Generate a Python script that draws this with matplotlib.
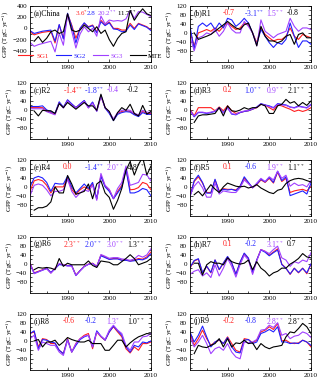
import numpy as np
import matplotlib
matplotlib.use("Agg")
from matplotlib import pyplot as plt
from matplotlib.ticker import MultipleLocator

plt.rcParams['font.family'] = ['Liberation Serif', 'DejaVu Serif']
plt.rcParams['mathtext.fontset'] = 'stix'

years = np.arange(1981, 2011)
nan = np.nan

titles = ['(a)China', '(b)R1', '(c)R2', '(d)R3', '(e)R4',
          '(f)R5', '(g)R6', '(h)R7', '(i)R8', '(j)R9']
labels = ['SG1', 'SG2', 'SG3', 'MTE']
colors = ['#ff2020', '#2020ff', '#a040ff', 'black']

trends = [
    ['3.6$^{*}$', '2.8', '20.2$^{**}$', '11.7$^{**}$'],
    ['-0.7', '-3.1$^{**}$', '1.5$^{**}$', '-0.8'],
    ['-1.4$^{**}$', '-1.8$^{**}$', '-0.4', '-0.2'],
    ['0.2', '1.0$^{**}$', '0.9$^{**}$', '2.1$^{**}$'],
    ['0.0', '-1.4$^{**}$', '2.0$^{**}$', '4.8$^{**}$'],
    ['0.1', '-0.6', '1.9$^{**}$', '1.1$^{**}$'],
    ['2.3$^{**}$', '2.0$^{**}$', '3.0$^{**}$', '1.3$^{**}$'],
    ['0.1', '-0.2', '3.1$^{**}$', '0.7'],
    ['-0.6', '-0.2', '1.3$^{*}$', '1.0$^{**}$'],
    ['-0.2', '-0.8', '2.8$^{**}$', '2.8$^{**}$'],
]

# GPP anomalies (TgC/yr), 1981-2010
china_sg1 = [-60, -115, -90, -70, -60, -50, -260, 60, -175, 260, 60, -175, 0, 90, 30,
             60, -60, 145, 60, 115, 0, 0, -30, -30, 90, 0, 90, 60, 30, -30]
china_sg2 = [-40, -90, -70, -50, -40, -30, -230, 70, -190, 270, 40, -260, 0, 100, 20,
             50, -80, 120, 50, 100, -10, -20, -60, -50, 60, -20, 80, 50, 20, -40]
china_sg3 = [-250, -320, -290, -270, -250, -230, -420, -90, -300, 240, -50, -350, -100, 30, -60,
             0, -140, 220, 80, 150, 130, 140, 130, 170, 320, 180, 300, 290, 250, 210]
china_mte = [nan, -230, -145, -250, -175, -60, -30, -90, -60, 260, -30, -60, -30, 60, 0,
             -60, 30, -90, -30, -200, -320, -180, -90, -60, 320, 145, 260, 350, 260, 230]

r1_sg1 = [7, -58, 0, 7, 15, 7, 22, 7, 29, 44, 29, 15, 22, 44, 36,
          0, -44, 22, -7, -22, -36, -29, -29, -15, 22, -15, -29, -7, -15, -22]
r1_sg2 = [29, -73, 29, 44, 29, 44, 15, 44, 22, 65, 58, 29, 44, 65, 44,
          0, -51, 15, -15, -44, -65, -44, -51, -29, 44, -15, -65, -36, -36, -51]
r1_sg3 = [-15, -80, -22, -15, 0, -7, 15, -15, 7, 44, 15, 0, 0, 51, 29,
          0, -58, 58, 7, -7, -22, -7, 0, 7, 65, 29, 7, 22, 22, 15]
r1_mte = [nan, 0, -29, -22, -15, -7, 7, 22, 36, 51, 36, 22, 15, 36, 44,
          0, -58, 29, -15, -36, -36, -44, -36, -15, -7, -51, -7, 0, -22, -22]

r2_sg1 = [10, 10, 10, 10, -4, -12, -19, 33, 10, 43, 25, 10, 25, 40, 10,
          33, -4, 62, 10, -12, -44, -16, -7, -4, -7, -19, -27, -7, -16, -16]
r2_sg2 = [15, 15, 15, 18, 0, -8, -15, 36, 12, 45, 27, 10, 27, 42, 12,
          35, -6, 65, 8, -16, -48, -20, -12, -8, -10, -22, -30, -12, -20, -20]
r2_sg3 = [5, 5, 5, 5, -8, -15, -22, 30, 8, 40, 22, 8, 22, 38, 8,
          30, -6, 60, 10, -10, -40, -12, -2, 0, -2, -15, -22, -2, -10, -12]
r2_mte = [nan, -5, -27, -2, -4, -4, -16, 28, 10, 33, 18, 3, 18, 33, 18,
          18, -2, 70, 10, -7, -48, -12, 10, -2, 25, -16, -27, 20, -19, -7]

r3_sg1 = [3, -27, 10, 10, 10, 10, -4, 13, -4, 18, -4, -16, -12, -7, -4,
          3, 10, 25, 22, 10, -1, 22, 18, 10, 3, -7, -1, -7, -1, 10]
r3_sg2 = [-1, -31, -12, -12, -16, -12, -7, 10, -12, 10, -19, -22, -12, -7, -4,
          3, 13, 28, 22, 18, 10, 28, 25, 22, 13, 10, 18, 13, 10, 25]
r3_sg3 = [-4, -28, -10, -10, -14, -10, -5, 8, -14, 8, -17, -20, -10, -5, -2,
          5, 12, 26, 20, 15, 8, 25, 22, 20, 12, 8, 15, 12, 8, 22]
r3_mte = [nan, -56, -27, -22, -22, -19, -16, 10, -27, 18, -4, -7, -1, 10, 3,
          10, 10, 25, 18, -16, -16, 18, 25, 47, 30, 37, 18, 33, 20, 40]

r4_sg1 = [-20, 27, 33, 27, 7, -27, 0, 0, 0, 40, -11, -33, -13, 0, -11,
          13, -53, 51, 3, -13, -53, -20, 7, 80, -13, -11, -3, 20, 13, -13]
r4_sg2 = [0, 40, 47, 40, 20, -20, 16, 13, 13, 47, 0, -27, -7, 13, -7,
          20, -53, 47, 0, -20, -53, -27, 0, 80, -27, -27, -20, -7, -13, -40]
r4_sg3 = [-40, 7, 13, 7, -13, -40, -20, -20, -13, 33, -20, -47, -27, -13, -20,
          7, -60, 60, 7, -11, -51, -7, 20, 93, 7, 13, 20, 56, 53, 27]
r4_mte = [nan, -104, -93, -93, -86, -67, 0, -27, -27, 51, 13, -33, -27, -20, 13,
          -53, 13, 27, -27, -47, -100, -60, -7, 73, 113, 53, 100, 133, 53, 93]

r5_sg1 = [-39, 24, 45, 17, -25, -25, 31, -18, -8, -11, -11, -14, 3, 38, 17,
          -4, 10, 31, 20, 38, 17, 66, 24, 38, -25, -18, -14, -11, -18, 3]
r5_sg2 = [-46, 28, 52, 20, -28, -28, 34, -22, -11, -14, -11, -17, 3, 45, 20,
          -4, 13, 34, 22, 42, 20, 70, 28, 45, -39, -32, -25, -18, -32, 17]
r5_sg3 = [-39, 3, 24, -4, -46, -46, 17, -32, -18, -22, -25, -25, -4, 31, 14,
          -4, 17, 38, 24, 45, 31, 70, 38, 52, 3, 17, 6, 10, 0, 28]
r5_mte = [nan, -35, -20, -40, -15, 10, -10, -25, 0, 17, 10, 3, 0, 3, -5,
          0, 10, -5, -15, -25, -30, -15, -10, 15, 28, 35, 38, 35, 28, 22]

r6_sg1 = [3, -40, -33, -26, -19, -40, -19, -1, -4, -7, -7, -50, -30, -11, -1,
          3, -11, 39, 31, 21, 24, 24, 17, 17, 13, 17, 24, 21, 31, 53]
r6_sg2 = [0, -42, -35, -28, -20, -38, -22, -3, -6, -8, -8, -52, -30, -12, -2,
          2, -12, 36, 28, 20, 22, 22, 16, 16, 12, 14, 20, 18, 26, 45]
r6_sg3 = [2, -44, -36, -28, -22, -42, -22, 2, -4, -10, -10, -52, -32, -12, -2,
          2, -14, 42, 34, 25, 28, 28, 22, 20, 16, 22, 38, 30, 40, 68]
r6_mte = [nan, -26, -16, -19, -16, -19, -26, 24, -11, 3, -4, -4, -4, -4, 13,
          -7, -16, 13, 10, 7, -4, -4, 10, 24, 41, 24, -4, 3, 10, 24]

r7_sg1 = [-19, 13, 21, -40, -11, -40, 17, -26, 3, 31, 3, -47, 7, 46, 24,
          -40, 17, 64, 56, 39, 53, 67, -1, -19, -47, -19, -40, -19, -44, -1]
r7_sg2 = [-15, 15, 23, -38, -10, -38, 18, -25, 4, 33, 4, -46, 8, 48, 26,
          -38, 18, 62, 52, 36, 50, 62, -3, -20, -45, -20, -38, -20, -40, 0]
r7_sg3 = [-47, -33, -26, -54, -40, -61, -4, -54, -19, 24, -11, -59, -4, 39, 17,
          -47, 13, 64, 56, 46, 64, 79, 27, 17, -11, 10, 3, 17, 10, 50]
r7_mte = [nan, 3, 3, -50, -4, 10, 3, 3, -4, 27, 10, 3, -1, 3, 17,
          -26, 10, -19, -33, -54, -40, -33, -19, -19, -1, 10, 24, 46, 31, 27]

r8_sg1 = [33, 40, -27, 10, 6, -12, -12, -42, -57, 10, -50, -12, 10, 25, 33,
          -35, 40, 18, 3, 40, 63, 40, 18, -35, -54, -27, -42, -12, -12, -5]
r8_sg2 = [33, 45, -35, 6, 3, -5, -9, -42, -57, 6, -50, -20, 6, 18, 25,
          -27, 45, 21, 3, 40, 66, 45, 25, -27, -50, -20, -27, -5, -9, 0]
r8_sg3 = [10, 25, -42, -5, -12, -20, -20, -50, -65, 3, -50, -12, 10, 21, 25,
          -27, 40, 21, 6, 48, 70, 48, 33, -20, -42, -5, -5, 18, 21, 33]
r8_mte = [nan, 0, 6, -27, -5, -5, 3, -20, -5, 15, 6, 0, -5, -5, 3,
          -12, -12, -12, -42, -42, -20, 3, 3, -27, -9, 6, 18, 25, 33, 30]

r9_sg1 = [33, -20, 10, 48, 10, -20, -5, 3, -12, 18, -12, -42, -50, 10, 6,
          -9, 3, 40, 48, 63, 51, 78, 0, 3, -9, -12, -9, 3, -5, -27]
r9_sg2 = [40, -5, 25, 66, 18, -27, -5, 6, -12, 15, -27, -50, -54, 3, 6,
          -12, -5, 33, 40, 51, 40, 63, -5, -5, -12, -9, -12, 3, -5, -20]
r9_sg3 = [18, -27, -5, 25, -12, -57, -35, -27, -42, -12, -50, -72, -80, -5, -9,
          -5, 6, 48, 51, 70, 60, 81, 25, 33, 10, 21, 25, 40, 33, 15]
r9_mte = [nan, -57, -20, -27, -30, -20, -12, 10, -27, 10, -27, -9, -12, 3, -12,
          -9, -39, -12, -27, -35, -27, -24, -20, 18, 40, 36, 55, 78, 63, 33]

series = [
    [china_sg1, china_sg2, china_sg3, china_mte],
    [r1_sg1, r1_sg2, r1_sg3, r1_mte],
    [r2_sg1, r2_sg2, r2_sg3, r2_mte],
    [r3_sg1, r3_sg2, r3_sg3, r3_mte],
    [r4_sg1, r4_sg2, r4_sg3, r4_mte],
    [r5_sg1, r5_sg2, r5_sg3, r5_mte],
    [r6_sg1, r6_sg2, r6_sg3, r6_mte],
    [r7_sg1, r7_sg2, r7_sg3, r7_mte],
    [r8_sg1, r8_sg2, r8_sg3, r8_mte],
    [r9_sg1, r9_sg2, r9_sg3, r9_mte],
]

fig = plt.figure(figsize=(3.2, 3.82), dpi=100)
fs = 5

W, H = 320.0, 382.0
col_x = [30, 190]
ax_w = 121
ax_h = 56
row_top = [6, 83, 160, 237, 314]

tx_a = [0.37, 0.47, 0.555, 0.715]
tx = [0.27, 0.45, 0.63, 0.80]

for k in range(10):
    r, c = k // 2, k % 2
    ax = fig.add_axes([col_x[c] / W, 1 - (row_top[r] + ax_h) / H, ax_w / W, ax_h / H])
    for j in range(4):
        ax.plot(years, series[k][j], color=colors[j], lw=0.8, label=labels[j])
    ax.set_xlim(1981, 2010)
    ax.xaxis.set_major_locator(MultipleLocator(10))
    ax.xaxis.set_minor_locator(MultipleLocator(5))
    if k == 0:
        ax.set_ylim(-600, 400)
        ax.set_yticks([-400, -200, 0, 200, 400])
        ax.yaxis.set_minor_locator(MultipleLocator(100))
        leg = ax.legend(loc='lower center', ncol=4, frameon=False, fontsize=fs,
                        handlelength=2.2, columnspacing=1.0, handletextpad=0.4,
                        borderaxespad=0.1)
        for t, col in zip(leg.get_texts(), colors):
            t.set_color(col)
    else:
        ax.set_ylim(-130, 120)
        ax.set_yticks([-80, -40, 0, 40, 80, 120])
        ax.yaxis.set_minor_locator(MultipleLocator(20))
    ax.tick_params(which='both', direction='in', top=True, right=True,
                   labelsize=fs, pad=2, width=0.5)
    ax.tick_params(which='major', length=2.5)
    ax.tick_params(which='minor', length=1.5)
    for s in ax.spines.values():
        s.set_linewidth(0.6)
    ax.set_ylabel('GPP (TgC yr$^{-1}$)', fontsize=fs, labelpad=1)
    ax.text(0.03, 0.87, titles[k], transform=ax.transAxes, fontsize=fs + 0.5,
            va='center', ha='left')
    pos = tx_a if k == 0 else tx
    tfs = fs if k == 0 else fs + 0.5
    for j in range(4):
        ax.text(pos[j], 0.87, trends[k][j], transform=ax.transAxes,
                fontsize=tfs, color=colors[j], va='center', ha='left')

plt.savefig('out.png', dpi=100)
